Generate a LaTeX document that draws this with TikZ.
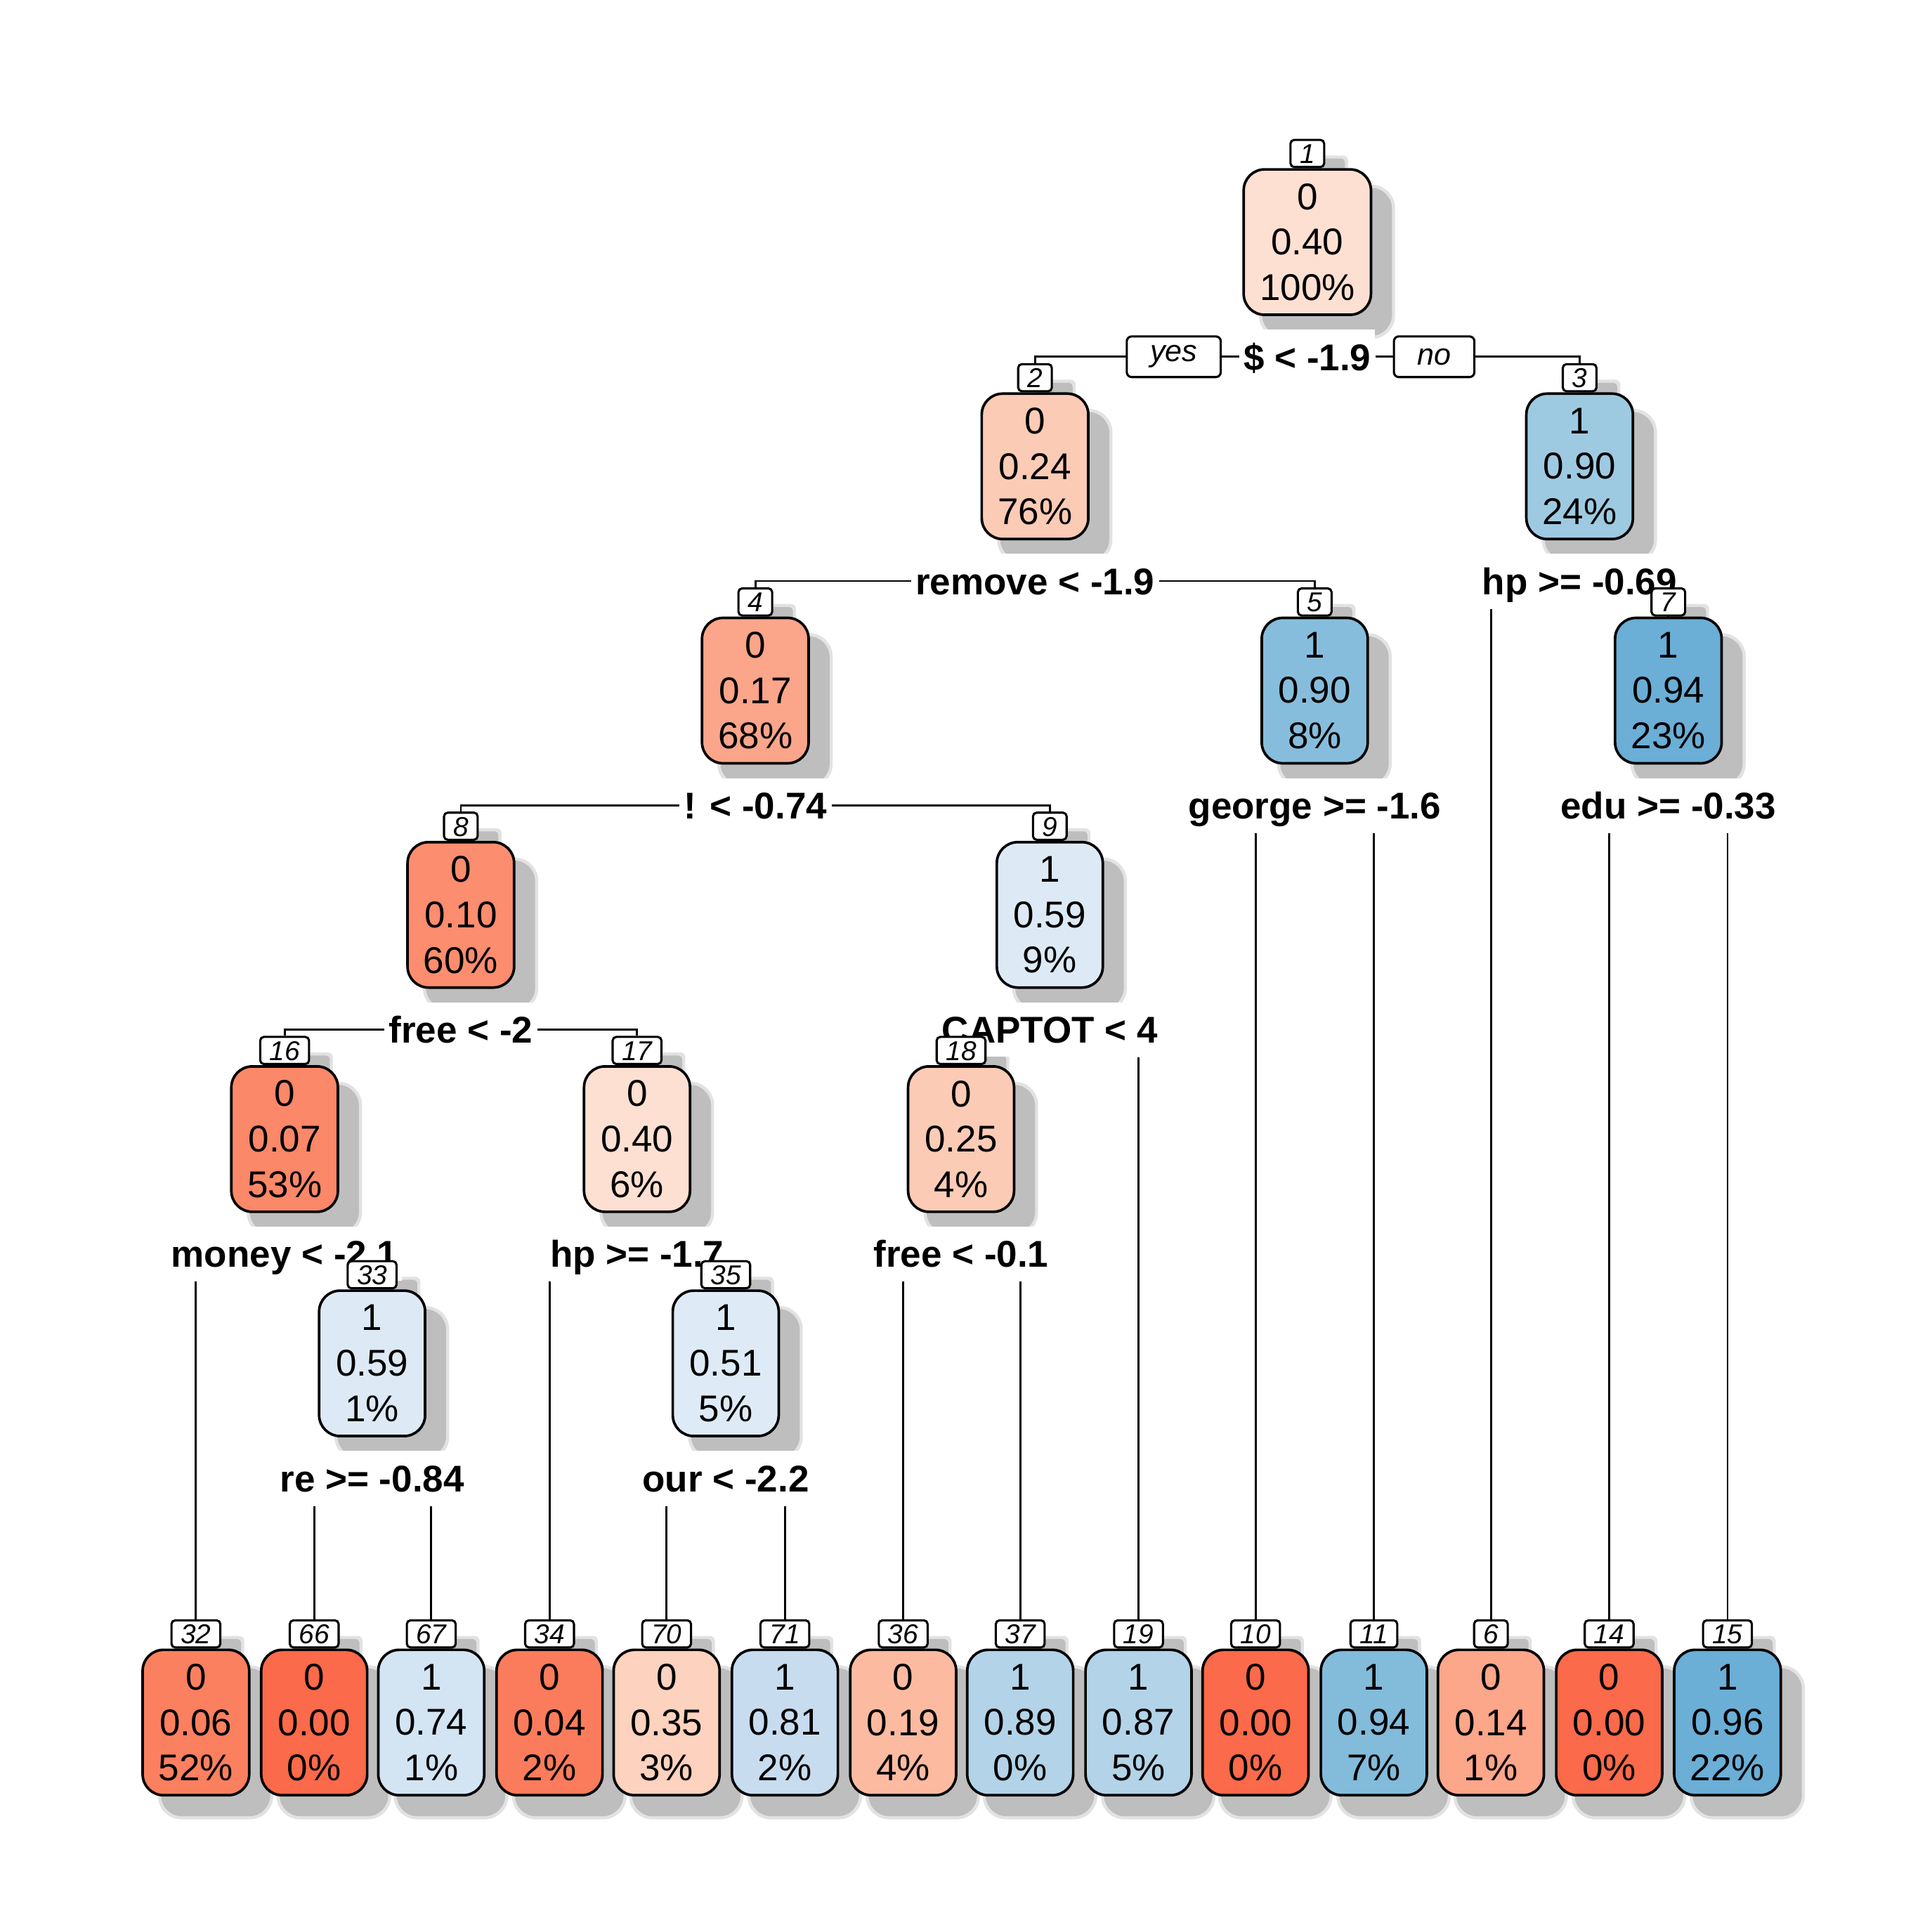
\documentclass[tikz,border=0pt]{standalone}
\usepackage{fontspec}
\setmainfont{Liberation Sans}
\usetikzlibrary{positioning}
\definecolor{Fit00}{HTML}{FB6A4A}
\definecolor{Fit04}{HTML}{FB7C5C}
\definecolor{Fit06}{HTML}{FB8060}
\definecolor{Fit07}{HTML}{FB8868}
\definecolor{Fit10}{HTML}{FC8D6F}
\definecolor{Fit14}{HTML}{FCA68A}
\definecolor{Fit17}{HTML}{FBA58A}
\definecolor{Fit19}{HTML}{FCBBA1}
\definecolor{Fit24}{HTML}{FCCBB5}
\definecolor{Fit35}{HTML}{FDD2BE}
\definecolor{Fit40}{HTML}{FEE0D2}
\definecolor{Fit51}{HTML}{DEEBF7}
\definecolor{Fit59}{HTML}{DDEAF6}
\definecolor{Fit74}{HTML}{D3E4F3}
\definecolor{Fit81}{HTML}{C8DCF0}
\definecolor{Fit87}{HTML}{B3D3E8}
\definecolor{Fit90}{HTML}{9ECAE1}
\definecolor{Fit90b}{HTML}{87BDDC}
\definecolor{Fit94}{HTML}{83BBDB}
\definecolor{Fit94b}{HTML}{6BAED6}
\definecolor{Shade}{HTML}{BEBEBE}
\pgfdeclarelayer{shade}
\pgfdeclarelayer{wire}
\pgfdeclarelayer{split}
\pgfsetlayers{shade,wire,split,main}
\tikzset{
  probbox/.style={draw=black,line width=0.6pt,rounded corners=0.17cm,minimum width=0.86cm,minimum height=1.18cm,
    inner xsep=0.13cm,inner ysep=0pt,align=center,font=\fontsize{8.6}{10.5}\selectfont},
  numtag/.style={draw=black,fill=white,line width=0.5pt,rounded corners=0.03cm,anchor=south,inner xsep=0.075cm,
    inner ysep=0.03cm,text height=0.16cm,text depth=0cm,font=\fontsize{6.3}{6.3}\selectfont\itshape},
  splitlab/.style={fill=white,anchor=base,inner xsep=0.03cm,inner ysep=0.03cm,text height=0.3cm,text depth=0.08cm,
    font=\fontsize{8.6}{8.6}\selectfont\bfseries},
  yesno/.style={draw=black,fill=white,line width=0.5pt,rounded corners=0.04cm,inner xsep=0.19cm,inner ysep=0pt,
    minimum height=0.33cm,font=\fontsize{7}{7}\selectfont\itshape},
  wire/.style={line width=0.45pt},
}
\begin{document}
\begin{tikzpicture}[x=1cm,y=1cm]
\useasboundingbox (0,0) rectangle (15.68,15.68);
% inner nodes
\node[probbox,fill=Fit40] (b1) at (10.61,13.715) {0\\0.40\\100\%};
\node[numtag] (l1) at (b1.north) {1};
\node[probbox,fill=Fit24] (b2) at (8.40,11.895) {0\\0.24\\76\%};
\node[numtag] (l2) at (b2.north) {2};
\node[probbox,fill=Fit90] (b3) at (12.82,11.895) {1\\0.90\\24\%};
\node[numtag] (l3) at (b3.north) {3};
\node[probbox,fill=Fit17] (b4) at (6.13,10.075) {0\\0.17\\68\%};
\node[numtag] (l4) at (b4.north) {4};
\node[probbox,fill=Fit90b] (b5) at (10.67,10.075) {1\\0.90\\8\%};
\node[numtag] (l5) at (b5.north) {5};
\node[probbox,fill=Fit94b] (b7) at (13.54,10.075) {1\\0.94\\23\%};
\node[numtag] (l7) at (b7.north) {7};
\node[probbox,fill=Fit10] (b8) at (3.74,8.255) {0\\0.10\\60\%};
\node[numtag] (l8) at (b8.north) {8};
\node[probbox,fill=Fit59] (b9) at (8.52,8.255) {1\\0.59\\9\%};
\node[numtag] (l9) at (b9.north) {9};
\node[probbox,fill=Fit07] (b16) at (2.31,6.435) {0\\0.07\\53\%};
\node[numtag] (l16) at (b16.north) {16};
\node[probbox,fill=Fit40] (b17) at (5.17,6.435) {0\\0.40\\6\%};
\node[numtag] (l17) at (b17.north) {17};
\node[probbox,fill=Fit24] (b18) at (7.80,6.435) {0\\0.25\\4\%};
\node[numtag] (l18) at (b18.north) {18};
\node[probbox,fill=Fit59] (b33) at (3.02,4.615) {1\\0.59\\1\%};
\node[numtag] (l33) at (b33.north) {33};
\node[probbox,fill=Fit51] (b35) at (5.89,4.615) {1\\0.51\\5\%};
\node[numtag] (l35) at (b35.north) {35};
% leaves
\node[probbox,fill=Fit06] (b32) at (1.59,1.70) {0\\0.06\\52\%};
\node[numtag] (l32) at (b32.north) {32};
\node[probbox,fill=Fit00] (b66) at (2.55,1.70) {0\\0.00\\0\%};
\node[numtag] (l66) at (b66.north) {66};
\node[probbox,fill=Fit74] (b67) at (3.50,1.70) {1\\0.74\\1\%};
\node[numtag] (l67) at (b67.north) {67};
\node[probbox,fill=Fit04] (b34) at (4.46,1.70) {0\\0.04\\2\%};
\node[numtag] (l34) at (b34.north) {34};
\node[probbox,fill=Fit35] (b70) at (5.41,1.70) {0\\0.35\\3\%};
\node[numtag] (l70) at (b70.north) {70};
\node[probbox,fill=Fit81] (b71) at (6.37,1.70) {1\\0.81\\2\%};
\node[numtag] (l71) at (b71.north) {71};
\node[probbox,fill=Fit19] (b36) at (7.33,1.70) {0\\0.19\\4\%};
\node[numtag] (l36) at (b36.north) {36};
\node[probbox,fill=Fit87] (b37) at (8.28,1.70) {1\\0.89\\0\%};
\node[numtag] (l37) at (b37.north) {37};
\node[probbox,fill=Fit87] (b19) at (9.24,1.70) {1\\0.87\\5\%};
\node[numtag] (l19) at (b19.north) {19};
\node[probbox,fill=Fit00] (b10) at (10.19,1.70) {0\\0.00\\0\%};
\node[numtag] (l10) at (b10.north) {10};
\node[probbox,fill=Fit94] (b11) at (11.15,1.70) {1\\0.94\\7\%};
\node[numtag] (l11) at (b11.north) {11};
\node[probbox,fill=Fit14] (b6) at (12.10,1.70) {0\\0.14\\1\%};
\node[numtag] (l6) at (b6.north) {6};
\node[probbox,fill=Fit00] (b14) at (13.06,1.70) {0\\0.00\\0\%};
\node[numtag] (l14) at (b14.north) {14};
\node[probbox,fill=Fit94b] (b15) at (14.02,1.70) {1\\0.96\\22\%};
\node[numtag] (l15) at (b15.north) {15};
% split rules
\begin{pgfonlayer}{split}
\node[splitlab] (s1) at ([yshift=-0.44cm]b1.south) {\$ < -1.9};
\node[yesno,left=0.14cm of s1] (yes) {yes};
\node[yesno,right=0.14cm of s1] (no) {no};
\node[splitlab] (s2) at ([yshift=-0.44cm]b2.south) {remove < -1.9};
\node[splitlab] (s3) at ([yshift=-0.44cm]b3.south) {hp >= -0.69};
\node[splitlab] (s4) at ([yshift=-0.44cm]b4.south) {! < -0.74};
\node[splitlab] (s5) at ([yshift=-0.44cm]b5.south) {george >= -1.6};
\node[splitlab] (s7) at ([yshift=-0.44cm]b7.south) {edu >= -0.33};
\node[splitlab] (s8) at ([yshift=-0.44cm]b8.south) {free < -2};
\node[splitlab] (s9) at ([yshift=-0.44cm]b9.south) {CAPTOT < 4};
\node[splitlab] (s16) at ([yshift=-0.44cm]b16.south) {money < -2.1};
\node[splitlab] (s17) at ([yshift=-0.44cm]b17.south) {hp >= -1.7};
\node[splitlab] (s18) at ([yshift=-0.44cm]b18.south) {free < -0.1};
\node[splitlab] (s33) at ([yshift=-0.44cm]b33.south) {re >= -0.84};
\node[splitlab] (s35) at ([yshift=-0.44cm]b35.south) {our < -2.2};
\end{pgfonlayer}
% branches
\begin{pgfonlayer}{wire}
\draw[wire] (s1) -| (l2); \draw[wire] (s1) -| (l3);
\draw[wire] (s2) -| (l4); \draw[wire] (s2) -| (l5);
\draw[wire] (s4) -| (l8); \draw[wire] (s4) -| (l9);
\draw[wire] (s8) -| (l16); \draw[wire] (s8) -| (l17);
% children lying under their rule text
\draw[wire] (s3.south -| l6) -- (l6); \draw[wire] (s3.south -| l7) -- (l7);
\draw[wire] (s5.south -| l10) -- (l10); \draw[wire] (s5.south -| l11) -- (l11);
\draw[wire] (s7.south -| l14) -- (l14); \draw[wire] (s7.south -| l15) -- (l15);
\draw[wire] (s9.south -| l18) -- (l18); \draw[wire] (s9.south -| l19) -- (l19);
\draw[wire] (s16.south -| l32) -- (l32); \draw[wire] (s16.south -| l33) -- (l33);
\draw[wire] (s17.south -| l34) -- (l34); \draw[wire] (s17.south -| l35) -- (l35);
\draw[wire] (s18.south -| l36) -- (l36); \draw[wire] (s18.south -| l37) -- (l37);
\draw[wire] (s33.south -| l66) -- (l66); \draw[wire] (s33.south -| l67) -- (l67);
\draw[wire] (s35.south -| l70) -- (l70); \draw[wire] (s35.south -| l71) -- (l71);
\end{pgfonlayer}
% drop shadows
\begin{pgfonlayer}{shade}
\foreach \n in {1,2,3,4,5,7,8,9,16,17,18,33,35,32,66,67,34,70,71,36,37,19,10,11,6,14,15}{
  \fill[Shade!45,rounded corners=0.19cm] ([shift={(0.135,-0.135)}]b\n.north west) rectangle ([shift={(0.185,-0.185)}]b\n.south east);
  \fill[Shade,rounded corners=0.17cm] ([shift={(0.16,-0.16)}]b\n.north west) rectangle ([shift={(0.16,-0.16)}]b\n.south east);
  \fill[Shade!45,rounded corners=0.04cm] ([shift={(0.135,-0.135)}]l\n.north west) rectangle ([shift={(0.185,-0.185)}]l\n.south east);
  \fill[Shade,rounded corners=0.03cm] ([shift={(0.16,-0.16)}]l\n.north west) rectangle ([shift={(0.16,-0.16)}]l\n.south east);
}
\end{pgfonlayer}
\end{tikzpicture}
\end{document}
